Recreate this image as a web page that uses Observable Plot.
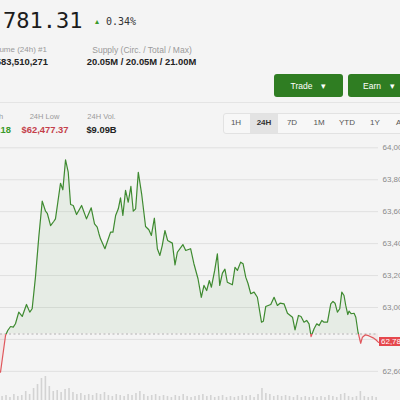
<!DOCTYPE html>
<html><head><meta charset="utf-8">
<script src="https://cdn.jsdelivr.net/npm/d3@7"></script>
<script src="https://cdn.jsdelivr.net/npm/@observablehq/plot@0.6"></script>
<style>
html,body{margin:0;padding:0;background:#f4f4f4;}
#root{position:relative;width:400px;height:400px;overflow:hidden;font-family:"Liberation Sans",Arial,sans-serif;background:#f4f4f4;}
.a{position:absolute;white-space:nowrap;line-height:1;}
.c{transform:translateX(-50%);}
.lbl{color:#9a9a9a;font-size:8px;}
.val{color:#222;font-size:9.4px;font-weight:bold;}
.btn{position:absolute;background:#2f7d22;border-radius:3px;color:#fff;font-size:8.5px;display:flex;align-items:center;justify-content:center;gap:9px;}
.rng{color:#555;font-size:8px;}
svg.layer{position:absolute;left:0;}
</style></head>
<body><div id="root">
<div class="a" style="left:-50px;top:10.4px;font-family:'DejaVu Sans Mono',monospace;font-size:22px;color:#1c1c1c;">$62,781.31</div>
<div class="a" style="left:95px;top:17.5px;font-size:8px;color:#3a9a2a;">▴</div>
<div class="a" style="left:106px;top:17.2px;font-family:'DejaVu Sans Mono',monospace;font-size:10px;color:#333;">0.34%</div>

<div class="a lbl" style="right:353px;top:46.1px;">Volume (24h) #1</div>
<div class="a val" style="right:352px;top:57.4px;">$30,583,510,271</div>
<div class="a lbl c" style="left:142px;top:45.8px;font-size:8.5px;">Supply (Circ. / Total / Max)</div>
<div class="a val c" style="left:141.5px;top:57.4px;">20.05M / 20.05M / 21.00M</div>

<div class="btn" style="left:274px;top:74px;width:69px;height:23px;"><span>Trade</span><span>▾</span></div>
<div class="btn" style="left:348px;top:74px;width:62px;height:23px;"><span>Earn</span><span>▾</span></div>

<div class="a" style="left:0;top:102px;width:400px;height:1px;background:#e4e4e4;"></div>

<div class="a lbl c" style="left:-12.5px;top:113.3px;font-size:7.5px;">24H High</div>
<div class="a val c" style="left:-12.5px;top:125.4px;color:#3a9a2a;">$63,952.18</div>
<div class="a lbl c" style="left:44.5px;top:113.3px;font-size:7.5px;">24H Low</div>
<div class="a val c" style="left:45px;top:125.4px;color:#c4404a;">$62,477.37</div>
<div class="a lbl c" style="left:101.5px;top:113.3px;font-size:7.5px;">24H Vol.</div>
<div class="a val c" style="left:101.5px;top:125.4px;">$9.09B</div>

<div class="a" style="left:223px;top:113px;width:190px;height:19px;border:1px solid #e2e2e2;border-radius:3px;background:#f7f7f7;"></div>
<div class="a" style="left:250px;top:114px;width:28px;height:19px;background:#e3e3e3;"></div>
<div class="a rng c" style="left:236px;top:119.1px;">1H</div>
<div class="a rng c" style="left:264px;top:119.1px;font-weight:bold;color:#333;">24H</div>
<div class="a rng c" style="left:292px;top:119.1px;">7D</div>
<div class="a rng c" style="left:319px;top:119.1px;">1M</div>
<div class="a rng c" style="left:347px;top:119.1px;">YTD</div>
<div class="a rng c" style="left:375px;top:119.1px;">1Y</div>
<div class="a rng c" style="left:403px;top:119.1px;">ALL</div>
</div>
<script>
// 24h price series (hours since start, USD)
const hours = [0.00,0.32,0.46,0.64,0.81,0.95,1.16,1.38,1.65,1.86,2.01,2.22,2.43,2.65,2.86,2.97,3.18,3.39,3.49,3.64,3.81,3.96,4.13,4.30,4.45,4.62,4.83,5.15,5.46,5.76,5.97,6.14,6.25,6.35,6.63,6.99,7.14,7.31,7.48,7.62,7.77,7.94,8.11,8.28,8.43,8.58,8.75,8.96,9.21,9.42,9.58,9.77,9.96,10.12,10.27,10.44,10.61,10.91,11.08,11.23,11.58,11.76,12.07,12.28,12.54,12.75,12.92,13.09,13.26,13.39,13.60,13.77,13.92,14.09,14.25,14.40,14.72,14.89,15.04,15.25,15.40,15.57,15.71,15.89,16.10,16.31,16.57,16.69,16.84,17.16,17.37,17.58,17.75,18.00,18.22,18.54,18.70,18.92,19.08,19.27,19.44,19.59,19.72,19.91,20.08,20.23,20.40,20.54,20.76,20.97,21.11,21.24,21.39,21.54,21.67,21.81,21.92,22.05,22.13,22.26,22.45,22.56,22.70,22.87,22.98,23.15,23.30,23.40,23.66,23.83,24.00];
const prices = [62595,62825,62856,62881,62877,62898,62971,62944,63019,62971,62992,63190,63440,63666,63603,63590,63513,63540,63555,63659,63778,63737,63925,63847,63645,63639,63582,63639,63555,63624,63524,63503,63462,63430,63368,63472,63472,63576,63618,63687,63576,63733,63659,63758,63603,63618,63847,63712,63507,63487,63451,63559,63368,63326,63388,63482,63420,63403,63267,63346,63394,63357,63368,63274,63180,63064,63138,63106,63169,63127,63232,63336,63138,63215,63240,63158,63142,63252,63232,63284,63274,63190,63152,63086,63096,63064,62908,62914,63006,63019,63064,63013,63027,63023,62964,62939,62860,62950,62944,62908,62919,62898,62818,62867,62898,62887,62919,62908,62908,63023,63038,63027,62971,62992,63096,63075,63013,62956,62977,62961,62964,62939,62845,62776,62814,62828,62825,62822,62810,62798,62781.31];
const baseline = 62834;
const lastPrice = 62781.31;
const gridTicks = [62600,62800,63000,63200,63400,63600,63800,64000];
// tick labels shown on the right axis (62,800 is hidden under the price tag)
const labelTicks = [62600,63000,63200,63400,63600,63800,64000];
// volume per 15-minute bin (relative)
const volume = [4,5,3,6,4,5,9,6,12,16,22,24,14,9,10,8,11,12,8,6,7,5,6,5,7,6,8,5,4,6,5,4,6,5,7,9,6,4,5,6,4,5,4,3,5,4,6,4,3,4,5,6,4,5,3,4,5,3,4,3,4,5,4,5,3,6,12,7,6,4,5,4,5,4,3,5,3,4,3,4,3,4,3,5,4,3,6,7,4,3,4,9,4,3,4,3];

const rows = hours.map((h,i)=>({h, p: prices[i]}));
const root = document.getElementById("root");

const volPlot = Plot.plot({
  width: 400, height: 28,
  marginLeft: 0, marginRight: 22, marginTop: 0, marginBottom: 0,
  style: {background: "transparent"},
  x: {domain: [0, 24], axis: null},
  y: {domain: [0, 28], axis: null},
  marks: [
    Plot.ruleX(volume, {x: (d,i) => i*0.25 + 0.1, y1: 0, y2: d => d, stroke: "#d3d3d3", strokeWidth: 1.6})
  ]
});
volPlot.classList.add("layer");
volPlot.style.top = "372px";
root.appendChild(volPlot);

const yDomain = [62417.6, 64045.7];
const chart = Plot.plot({
  width: 400, height: 260,
  marginLeft: 0, marginRight: 22, marginTop: 0, marginBottom: 0,
  style: {background: "transparent", overflow: "visible", fontFamily: "Liberation Sans, Arial, sans-serif", fontSize: "8px", color: "#8a8a8a"},
  x: {domain: [0, 24], axis: null},
  y: {domain: yDomain, axis: "right", ticks: labelTicks, tickSize: 0, tickPadding: 4, tickFormat: d3.format(",.2f"), label: null},
  marks: [
    Plot.ruleY(gridTicks, {stroke: "#e0e0e0", strokeWidth: 1}),
    Plot.areaY(rows, {x: "h", y1: () => baseline, y2: "p", fill: "#4f9f3d", fillOpacity: 0.08, className: "area-up"}),
    Plot.areaY(rows, {x: "h", y1: () => baseline, y2: "p", fill: "#e05050", fillOpacity: 0.07, className: "area-down"}),
    Plot.ruleY([baseline], {stroke: "#b0b0b0", strokeDasharray: "2,2.5", strokeWidth: 1}),
    Plot.lineY(rows, {x: "h", y: "p", stroke: "#3e8a30", strokeWidth: 1.2, className: "line-up"}),
    Plot.lineY(rows, {x: "h", y: "p", stroke: "#e0575c", strokeWidth: 1.2, className: "line-down"})
  ]
});
chart.classList.add("layer");
chart.style.top = "140px";
root.appendChild(chart);

let ys;
try { ys = chart.scale("y"); } catch (e) { ys = null; }
const yPix = v => (ys && ys.apply) ? ys.apply(v) : 260 - (v - yDomain[0]) / (yDomain[1] - yDomain[0]) * 260;
const yb = yPix(baseline);
const ns = "http://www.w3.org/2000/svg";
const defs = document.createElementNS(ns, "defs");
function addClip(id, y, h) {
  const cp = document.createElementNS(ns, "clipPath");
  cp.setAttribute("id", id);
  const r = document.createElementNS(ns, "rect");
  r.setAttribute("x", -10); r.setAttribute("y", y);
  r.setAttribute("width", 420); r.setAttribute("height", h);
  cp.appendChild(r); defs.appendChild(cp);
}
addClip("clipUp", -10, yb + 10);
addClip("clipDown", yb, 300);
chart.insertBefore(defs, chart.firstChild);
chart.querySelectorAll('.line-up, .area-up').forEach(g => g.setAttribute("clip-path", "url(#clipUp)"));
chart.querySelectorAll('.line-down, .area-down').forEach(g => g.setAttribute("clip-path", "url(#clipDown)"));

// current price tag on the right axis
const tag = document.createElement("div");
tag.className = "a";
const ty = 140 + yPix(lastPrice);
Object.assign(tag.style, {left: "379px", top: (ty - 4.5) + "px", height: "9px", padding: "0 2px", background: "#e5484d", color: "#fff", fontSize: "8px", lineHeight: "9px"});
tag.textContent = d3.format(",.2f")(lastPrice);
root.appendChild(tag);
</script>
</body></html>
